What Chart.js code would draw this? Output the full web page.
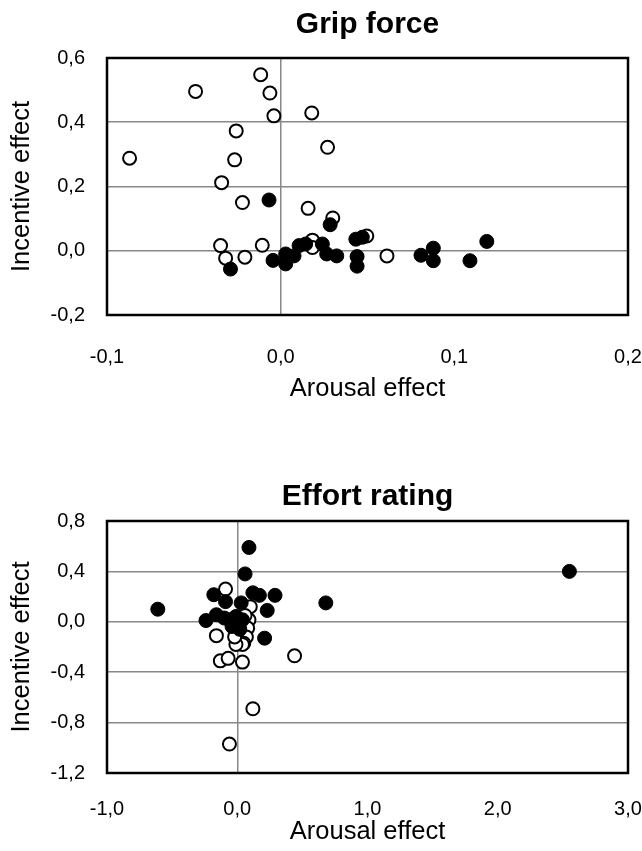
<!DOCTYPE html>
<html lang="en">
  <head>
    <meta charset="UTF-8" />
    <title>Grip force / Effort rating</title>
    <script src="https://cdn.jsdelivr.net/npm/chart.js@4"></script>
    <style>
      body { margin: 0; background: #fff; }
      #top { position: absolute; left: 0; top: 0; }
      #bottom { position: absolute; left: 0; top: 430px; }
    </style>
  </head>
  <body>
    <canvas id="top" width="642" height="420"></canvas>
    <canvas id="bottom" width="642" height="421"></canvas>
  </body>
</html>

<script>
  // grip force: [arousal effect, incentive effect]
  const gripOpen = [
    [-0.0115, 0.548], [-0.049, 0.496], [-0.0062, 0.491], [-0.0039, 0.42], [0.0179, 0.429],
    [-0.0256, 0.373], [0.027, 0.322], [-0.087, 0.288], [-0.0265, 0.283], [-0.034, 0.212],
    [-0.022, 0.150], [0.0158, 0.132], [0.030, 0.102], [-0.0346, 0.016], [-0.0317, -0.023],
    [-0.0206, -0.020], [-0.0106, 0.017], [0.0183, 0.033], [0.0183, 0.010], [0.0496, 0.046],
    [0.0612, -0.016]
  ];
  const gripFilled = [
    [-0.0067, 0.158], [0.0285, 0.081], [-0.0289, -0.057], [-0.0044, -0.030], [0.0029, -0.010],
    [0.0029, -0.041], [0.0077, -0.016], [0.0106, 0.016], [0.0144, 0.021], [0.024, 0.021],
    [0.0265, -0.010], [0.0323, -0.016], [0.0433, 0.036], [0.047, 0.042], [0.044, -0.018],
    [0.044, -0.048], [0.0808, -0.014], [0.0879, 0.008], [0.0879, -0.031], [0.109, -0.031],
    [0.1187, 0.029]
  ];

  // effort rating
  const effortOpen = [
    [-0.09, 0.26], [0.10, 0.12], [0.09, 0.016], [0.08, -0.05], [0.07, -0.12], [0.05, -0.17],
    [0.04, -0.18], [-0.01, -0.18], [-0.16, -0.11], [0.44, -0.27], [-0.13, -0.31], [-0.07, -0.29],
    [0.04, -0.32], [0.12, -0.69], [-0.06, -0.97], [0.0, -0.08], [0.06, 0.05], [-0.02, -0.12]
  ];
  const effortFilled = [
    [2.55, 0.40], [-0.61, 0.10], [0.09, 0.59], [0.06, 0.38], [-0.18, 0.215], [-0.09, 0.16],
    [0.12, 0.23], [0.17, 0.21], [0.29, 0.21], [0.68, 0.15], [0.23, 0.09], [0.03, 0.15],
    [-0.16, 0.056], [-0.24, 0.01], [-0.06, 0.016], [-0.01, 0.042], [0.04, 0.016], [-0.04, -0.037],
    [0.0, -0.02], [0.21, -0.13], [-0.10, 0.03], [0.02, -0.06]
  ];

  const gripXTicks = [-0.1, 0.0, 0.1, 0.2];
  const gripYTicks = [-0.2, 0.0, 0.2, 0.4, 0.6];
  const effortXTicks = [-1.0, 0.0, 1.0, 2.0, 3.0];
  const effortYTicks = [-1.2, -0.8, -0.4, 0.0, 0.4, 0.8];

  const FONT = 'Liberation Sans, Arial, sans-serif';

  function comma(v) {
    return v.toFixed(1).replace('.', ',');
  }

  function pts(arr) {
    return arr.map(function (p) { return { x: p[0], y: p[1] }; });
  }

  // frame around the plot area
  const frame = {
    id: 'frame',
    afterDraw: function (chart) {
      const a = chart.chartArea, ctx = chart.ctx;
      ctx.save();
      ctx.strokeStyle = '#000';
      ctx.lineWidth = 2.5;
      ctx.strokeRect(a.left, a.top, a.right - a.left, a.bottom - a.top);
      ctx.restore();
    }
  };

  function makeChart(id, title, open, filled, xt, yt, cfg) {
    const ctx = document.getElementById(id).getContext('2d');
    return new Chart(ctx, {
      type: 'scatter',
      data: {
        datasets: [
          {
            data: pts(filled),
            pointRadius: 7,
            pointHoverRadius: 7,
            pointBackgroundColor: '#000',
            pointBorderColor: '#000',
            pointBorderWidth: 1
          },
          {
            data: pts(open),
            pointRadius: 6.5,
            pointHoverRadius: 6.5,
            pointBackgroundColor: '#fff',
            pointBorderColor: '#000',
            pointBorderWidth: 2
          }
        ]
      },
      options: {
        responsive: false,
        animation: false,
        devicePixelRatio: 1,
        layout: { padding: { left: 0, right: 14, top: 0, bottom: 0 } },
        plugins: {
          legend: { display: false },
          tooltip: { enabled: false },
          title: {
            display: true,
            fullSize: false, // centre over the plot, not the canvas
            text: title,
            color: '#000',
            font: { family: FONT, size: 30, weight: 'bold' },
            padding: { top: cfg.titleTop, bottom: cfg.titleBottom }
          }
        },
        scales: {
          x: {
            type: 'linear',
            min: xt[0],
            max: xt[xt.length - 1],
            afterBuildTicks: function (s) { s.ticks = xt.map(function (v) { return { value: v }; }); },
            afterFit: function (s) {
              s.height = cfg.xHeight;
              s.paddingLeft = 0;
              s.paddingRight = 0;
            },
            border: { display: false },
            grid: {
              drawTicks: false,
              color: function (c) { return c.tick && c.tick.value === 0 ? '#888' : 'rgba(0,0,0,0)'; },
              lineWidth: 1.5
            },
            ticks: {
              padding: cfg.xTickPad,
              color: '#000',
              font: { family: FONT, size: 20 },
              callback: function (v) { return comma(v); }
            },
            title: {
              display: true,
              text: 'Arousal effect',
              color: '#000',
              font: { family: FONT, size: 25.5 },
              padding: { top: 0, bottom: cfg.xTitlePad }
            }
          },
          y: {
            type: 'linear',
            min: yt[0],
            max: yt[yt.length - 1],
            afterBuildTicks: function (s) { s.ticks = yt.map(function (v) { return { value: v }; }); },
            afterFit: function (s) { s.width = 107; },
            border: { display: false },
            grid: { drawTicks: false, color: '#888', lineWidth: 1.5 },
            ticks: {
              padding: 22,
              color: '#000',
              font: { family: FONT, size: 20 },
              callback: function (v) { return comma(v); }
            },
            title: {
              display: true,
              text: 'Incentive effect',
              color: '#000',
              font: { family: FONT, size: 25.5 },
              padding: { top: 7, bottom: 0 }
            }
          }
        }
      },
      plugins: [frame]
    });
  }

  makeChart('top', 'Grip force', gripOpen, gripFilled, gripXTicks, gripYTicks,
    { titleTop: 7, titleBottom: 15, xHeight: 105, xTickPad: 30, xTitlePad: 16 });
  makeChart('bottom', 'Effort rating', effortOpen, effortFilled, effortXTicks, effortYTicks,
    { titleTop: 49, titleBottom: 6, xHeight: 78, xTickPad: 24, xTitlePad: 4 });
</script>
